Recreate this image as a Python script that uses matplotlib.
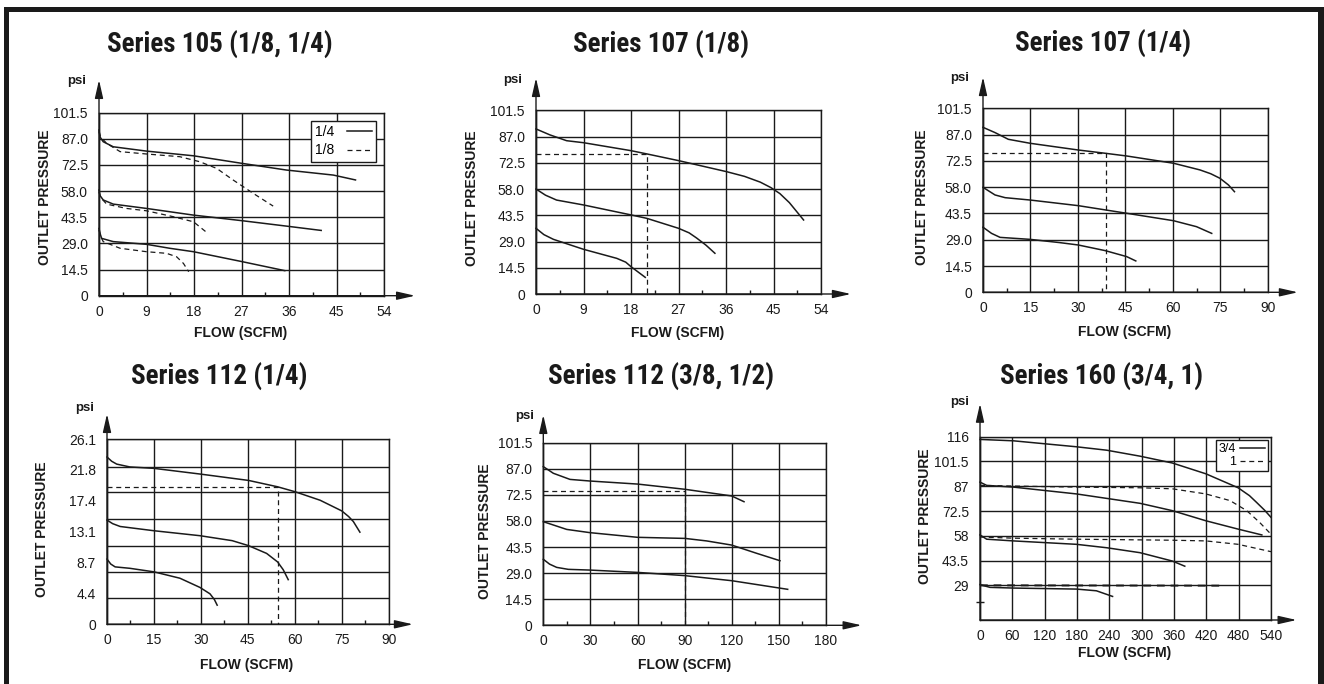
import matplotlib
matplotlib.use("Agg")
import matplotlib.pyplot as plt
from matplotlib.patches import Rectangle
from matplotlib.lines import Line2D

plt.rcParams['font.family'] = ['Liberation Sans', 'DejaVu Sans']

W, H = 1324, 684
INK = '#1a1a1a'
DASH = (0, (4, 3))

# ---------------- data ----------------
# Series 105 (1/8, 1/4)
s105_flow_ticks = [0, 9, 18, 27, 36, 45, 54]
s105_psi_ticks = [0, 14.5, 29.0, 43.5, 58.0, 72.5, 87.0, 101.5]
s105_psi_labels = ['0', '14.5', '29.0', '43.5', '58.0', '72.5', '87.0', '101.5']
s105_q14 = [
    ([0, 0.2, 0.8, 2.7, 9, 17.9, 27.1, 35.5, 44.4, 48.6],
     [91.9, 88.0, 85.4, 82.6, 80.2, 77.6, 73.4, 69.7, 66.9, 64.2]),
    ([0, 0.2, 0.8, 2.7, 9, 17.9, 27.1, 35.5, 42.1],
     [58.6, 55.5, 53.1, 50.8, 48.4, 44.7, 41.6, 38.6, 36.2]),
    ([0, 0.2, 0.5, 2.7, 9, 13.4, 17.9, 27.1, 35.2],
     [37.3, 34.5, 31.8, 30.0, 28.5, 26.3, 24.4, 18.9, 13.9]),
]
s105_q18 = [
    ([0, 0.3, 1.45, 4, 9, 15.3, 19.1, 22.3, 25.4, 29.2, 33.0],
     [91.0, 88.0, 84.5, 79.9, 78.6, 77.1, 74.3, 70.6, 64.2, 56.8, 49.7]),
    ([0, 0.3, 1.45, 5.2, 9, 14.1, 17.9, 20.4],
     [57.5, 54.5, 50.8, 48.4, 47.1, 43.8, 41.0, 35.1]),
    ([0, 0.3, 0.8, 4, 9, 12.8, 14.7, 16.0, 17.0],
     [36.5, 33.0, 30.0, 26.3, 24.4, 23.5, 21.6, 17.9, 13.3]),
]

# Series 107 (1/8)
s107a_flow_ticks = [0, 9, 18, 27, 36, 45, 54]
s107a_curves = [
    ([0, 2.65, 5.8, 9, 18, 21, 27, 36.1, 39.5, 42.5, 44.5, 46.2, 48.0, 50.7],
     [91.2, 87.9, 84.7, 83.6, 79.2, 77.4, 73.7, 67.6, 65.0, 61.8, 58.8, 55.5, 50.5, 40.9]),
    ([0, 1.8, 3.9, 9, 18, 21, 27, 29.0, 30.4, 32.2, 33.9],
     [58.0, 54.6, 51.9, 49.2, 43.7, 41.8, 36.3, 33.8, 31.0, 27.0, 22.5]),
    ([0, 1.5, 3.3, 9, 15.3, 17.0, 18, 20.7],
     [36.3, 32.8, 30.2, 24.7, 19.7, 17.6, 15.1, 9.2]),
]
s107a_ref = (21, 77.4)

# Series 107 (1/4)
s107b_flow_ticks = [0, 15, 30, 45, 60, 75, 90]
s107b_curves = [
    ([0, 3.8, 8.0, 14.9, 30.1, 38.6, 45.4, 60.2, 68.6, 72.0, 74.9, 77.6, 79.5],
     [91.0, 88.1, 84.4, 82.2, 78.5, 76.7, 75.2, 71.2, 67.5, 65.4, 62.9, 59.2, 55.5]),
    ([0, 3.8, 7.0, 14.9, 30.1, 45.4, 60.2, 67.5, 72.3],
     [57.9, 53.7, 52.2, 50.9, 47.8, 43.6, 39.5, 36.2, 32.5]),
    ([0, 2.7, 5.4, 14.9, 24.3, 30.1, 38.6, 45.4, 48.3],
     [35.9, 32.5, 30.3, 29.2, 27.4, 26.1, 23.0, 19.7, 17.3]),
]
s107b_ref = (38.8, 76.7)

# Series 112 (1/4)
s112a_flow_ticks = [0, 15, 30, 45, 60, 75, 90]
s112a_psi_ticks = [0, 4.4, 8.7, 13.1, 17.4, 21.8, 26.1]
s112a_psi_labels = ['0', '4.4', '8.7', '13.1', '17.4', '21.8', '26.1']
s112a_grid = [0, 3.7, 7.4, 11.1, 14.8, 18.6, 22.2, 26.1]
s112a_curves = [
    ([0, 1.5, 3.1, 7.3, 15, 29.7, 45.2, 54.5, 60.1, 68.1, 75, 77.2, 78.7, 80.8],
     [23.6, 23.0, 22.6, 22.2, 22.0, 21.2, 20.3, 19.4, 18.7, 17.5, 16.0, 15.2, 14.5, 13.0]),
    ([0, 1.8, 4.2, 15, 29.7, 40.0, 45.2, 51, 54.5, 56.3, 57.9],
     [14.7, 14.2, 13.8, 13.2, 12.5, 11.8, 11.1, 10.0, 8.8, 7.7, 6.3]),
    ([0, 1.2, 2.6, 7.3, 15, 23.3, 29.7, 32.9, 34.3, 35.2],
     [9.2, 8.5, 8.1, 7.9, 7.4, 6.5, 5.2, 4.3, 3.5, 2.7]),
]
s112a_ref = (54.5, 19.4)

# Series 112 (3/8, 1/2)
s112b_flow_ticks = [0, 30, 60, 90, 120, 150, 180]
s112b_curves = [
    ([0, 6.4, 17, 29.7, 60.1, 90.2, 119.9, 127.8],
     [88.2, 84.5, 81.1, 80.2, 78.5, 75.6, 71.9, 68.7]),
    ([0, 14.9, 29.7, 60.1, 90.2, 104, 119.9, 135.9, 150.7],
     [57.6, 53.3, 51.5, 48.9, 48.3, 46.9, 44.6, 40.0, 35.9]),
    ([0, 4.0, 8.5, 15.9, 29.7, 60.1, 90.2, 119.9, 155.6],
     [36.7, 34.0, 32.2, 31.1, 30.7, 29.4, 27.6, 24.8, 20.0]),
]
s112b_ref = (90, 74.8)

# Series 160 (3/4, 1)
s160_flow_ticks = [0, 60, 120, 180, 240, 300, 360, 420, 480, 540]
s160_psi_ticks = [29, 43.5, 58, 72.5, 87, 101.5, 116]
s160_psi_labels = ['29', '43.5', '58', '72.5', '87', '101.5', '116']
s160_psi_bottom = 8.7
s160_q34 = [
    ([0, 61.8, 179, 235, 297, 357, 419, 479, 500, 513, 528, 540],
     [114.4, 113.6, 110.1, 108.1, 104.6, 100.6, 94.3, 86.1, 81.5, 77.6, 73.0, 68.8]),
    ([0, 12.4, 61.8, 179, 297, 357, 419, 479, 523],
     [89.4, 87.5, 86.5, 82.5, 77.0, 72.7, 66.8, 61.9, 58.5]),
    ([0, 12.4, 61.8, 179, 235, 297, 357, 380],
     [58.5, 56.0, 55.0, 53.0, 51.0, 48.1, 43.2, 40.2]),
    ([0, 18.6, 61.8, 179, 216, 246],
     [29.4, 27.8, 27.4, 26.8, 25.8, 22.5]),
]
s160_q1 = [
    ([0, 61.8, 179, 297, 357, 419, 464, 495, 519, 540],
     [87.5, 87.1, 86.5, 86.1, 85.5, 82.5, 78.6, 72.7, 65.8, 58.9]),
    ([0, 61.8, 179, 357, 419, 479, 540],
     [57.3, 56.6, 56.0, 55.4, 55.0, 53.0, 48.7]),
    ([0, 451], [29.0, 28.8]),
]


# ---------------- drawing ----------------
fig = plt.figure(figsize=(W / 100, H / 100), dpi=100)
title_texts = []


def px_rect(x0, x1, ytop, ybot):
    return [x0 / W, 1 - ybot / H, (x1 - x0) / W, (ybot - ytop) / H]


def ftext(x, y, s, **kw):
    return fig.text(x / W, 1 - y / H, s, color=INK, **kw)


def make_panel(rect, xticks, yticks, ylabels, ygrid, ylim, tips, minor=True):
    ax = fig.add_axes(px_rect(*rect))
    ax.set_xlim(xticks[0], xticks[-1])
    ax.set_ylim(*ylim)
    for x in xticks:
        ax.axvline(x, color=INK, lw=1.0, zorder=1)
    for y in ygrid:
        ax.axhline(y, color=INK, lw=1.0, zorder=1)
    for sp in ax.spines.values():
        sp.set_color(INK)
        sp.set_linewidth(1.0)
    ax.set_xticks(xticks)
    ax.set_yticks(yticks, ylabels)
    ax.tick_params(length=0, labelsize=10, colors=INK)
    ax.tick_params(axis='x', pad=6.5)
    ax.tick_params(axis='y', pad=8)
    if minor:
        mids = [(a + b) / 2 for a, b in zip(xticks, xticks[1:])]
        ax.set_xticks(mids, minor=True)
        ax.tick_params(axis='x', which='minor', direction='in', length=3,
                       width=1.0, color=INK)
    ap = dict(arrowstyle='-|>,head_length=1.1,head_width=0.25', color=INK,
              lw=1.0, mutation_scale=10, shrinkA=0, shrinkB=0)
    ax.annotate('', xy=(tips[0], 0), xytext=(0, 0), xycoords='axes fraction',
                arrowprops=ap, annotation_clip=False)
    ax.annotate('', xy=(0, tips[1]), xytext=(0, 0), xycoords='axes fraction',
                arrowprops=ap, annotation_clip=False)
    return ax


def labels(title_xy, title, psi_xy, ylab_xy, xlab_xy):
    t = ftext(*title_xy, title, ha='center', va='center', fontsize=20,
              fontweight='bold',
              family=['Roboto Condensed', 'Liberation Sans Narrow',
                      'Liberation Sans', 'DejaVu Sans'])
    title_texts.append(t)
    ftext(*psi_xy, 'psi', ha='center', va='center', fontsize=9.5,
          fontweight='bold')
    ftext(*ylab_xy, 'OUTLET PRESSURE', ha='center', va='center', fontsize=10,
          fontweight='bold', rotation=90)
    ftext(*xlab_xy, 'FLOW (SCFM)', ha='center', va='center', fontsize=10,
          fontweight='bold')


def curves(ax, data, style='-', lw=None):
    for xs, ys in data:
        if style == '-':
            ax.plot(xs, ys, color=INK, lw=lw or 1.1, zorder=3, clip_on=False)
        else:
            ax.plot(xs, ys, color=INK, lw=lw or 0.9, ls=DASH, zorder=3,
                    clip_on=False)


def ref_line(ax, ref):
    rx, ry = ref
    ax.plot([0, rx, rx], [ry, ry, 0], color=INK, lw=0.9, ls=DASH, zorder=2)


def legend(ax, names, fs, **kw):
    hs = [Line2D([], [], color=INK, lw=1.1),
          Line2D([], [], color=INK, lw=0.9, ls=DASH)]
    lg = ax.legend(hs, names, loc='upper right', markerfirst=False,
                   fontsize=fs, frameon=True, fancybox=False, framealpha=1,
                   edgecolor=INK, **kw)
    lg.get_frame().set_linewidth(1.0)
    lg.set_zorder(5)


# Series 105
ax = make_panel((99, 384, 112.7, 295.7), s105_flow_ticks, s105_psi_ticks,
                s105_psi_labels, s105_psi_ticks, (0, 101.5), (1.109, 1.179))
curves(ax, s105_q14)
curves(ax, s105_q18, '--')
legend(ax, ['1/4', '1/8'], 10, handlelength=1.8, handletextpad=0.9,
       labelspacing=0.3, borderpad=0.3, borderaxespad=0.6)
labels((220, 45), 'Series 105 (1/8, 1/4)', (77, 81), (45, 197), (241, 333))

# Series 107 (1/8)
ax = make_panel((536, 821, 110.3, 294), s107a_flow_ticks, s105_psi_ticks,
                s105_psi_labels, s105_psi_ticks, (0, 101.5), (1.105, 1.176))
curves(ax, s107a_curves)
ref_line(ax, s107a_ref)
labels((661, 45), 'Series 107 (1/8)', (513, 80), (472, 198), (678, 333))

# Series 107 (1/4)
ax = make_panel((983, 1267.7, 108.3, 292.3), s107b_flow_ticks, s105_psi_ticks,
                s105_psi_labels, s105_psi_ticks, (0, 101.5), (1.106, 1.17))
curves(ax, s107b_curves)
ref_line(ax, s107b_ref)
labels((1103, 44), 'Series 107 (1/4)', (960, 78), (922, 197), (1125, 332))

# Series 112 (1/4)
ax = make_panel((107, 388.7, 439.3, 624.3), s112a_flow_ticks, s112a_psi_ticks,
                s112a_psi_labels, s112a_grid, (0, 26.1), (1.086, 1.137))
curves(ax, s112a_curves)
ref_line(ax, s112a_ref)
labels((219, 377), 'Series 112 (1/4)', (85, 408), (42, 529), (247, 665))

# Series 112 (3/8, 1/2)
ax = make_panel((543.3, 826, 442.7, 625.3), s112b_flow_ticks, s105_psi_ticks,
                s105_psi_labels, s105_psi_ticks, (0, 101.5), (1.126, 1.152))
curves(ax, s112b_curves)
ref_line(ax, s112b_ref)
labels((661, 377), 'Series 112 (3/8, 1/2)', (525, 416), (485, 531), (685, 665))

# Series 160 (3/4, 1)
ax = make_panel((980, 1271, 436.7, 620), s160_flow_ticks, s160_psi_ticks,
                s160_psi_labels, s160_psi_ticks, (s160_psi_bottom, 116),
                (1.088, 1.18), minor=False)
ax.set_yticks([19.5], minor=True)
ax.tick_params(axis='y', which='minor', direction='inout', length=6,
               width=1.0, color=INK)
curves(ax, s160_q34)
curves(ax, s160_q1[:2], '--')
curves(ax, s160_q1[2:], '--', lw=1.4)
legend(ax, ['3/4', '1'], 9, handlelength=2.0, handletextpad=0.3,
       labelspacing=0.1, borderpad=0.25, borderaxespad=0.25)
labels((1102, 377), 'Series 160 (3/4, 1)', (960, 402), (925, 516), (1125, 653))

# fit the title size to the width the headings take on the page (~225 px)
renderer = fig.canvas.get_renderer()
w0 = title_texts[0].get_window_extent(renderer).width
size = 20 * 225 / w0
for t in title_texts:
    t.set_fontsize(size)

# page frame
fig.add_artist(Rectangle((4 / W, 0), 5 / W, 1 - 7 / H,
                         transform=fig.transFigure, color=INK, lw=0))
fig.add_artist(Rectangle((4 / W, 1 - 12 / H), (W - 4) / W, 5 / H,
                         transform=fig.transFigure, color=INK, lw=0))
fig.add_artist(Rectangle((1318 / W, 0), 6 / W, 1 - 7 / H,
                         transform=fig.transFigure, color=INK, lw=0))

fig.savefig('out.png', dpi=100)
